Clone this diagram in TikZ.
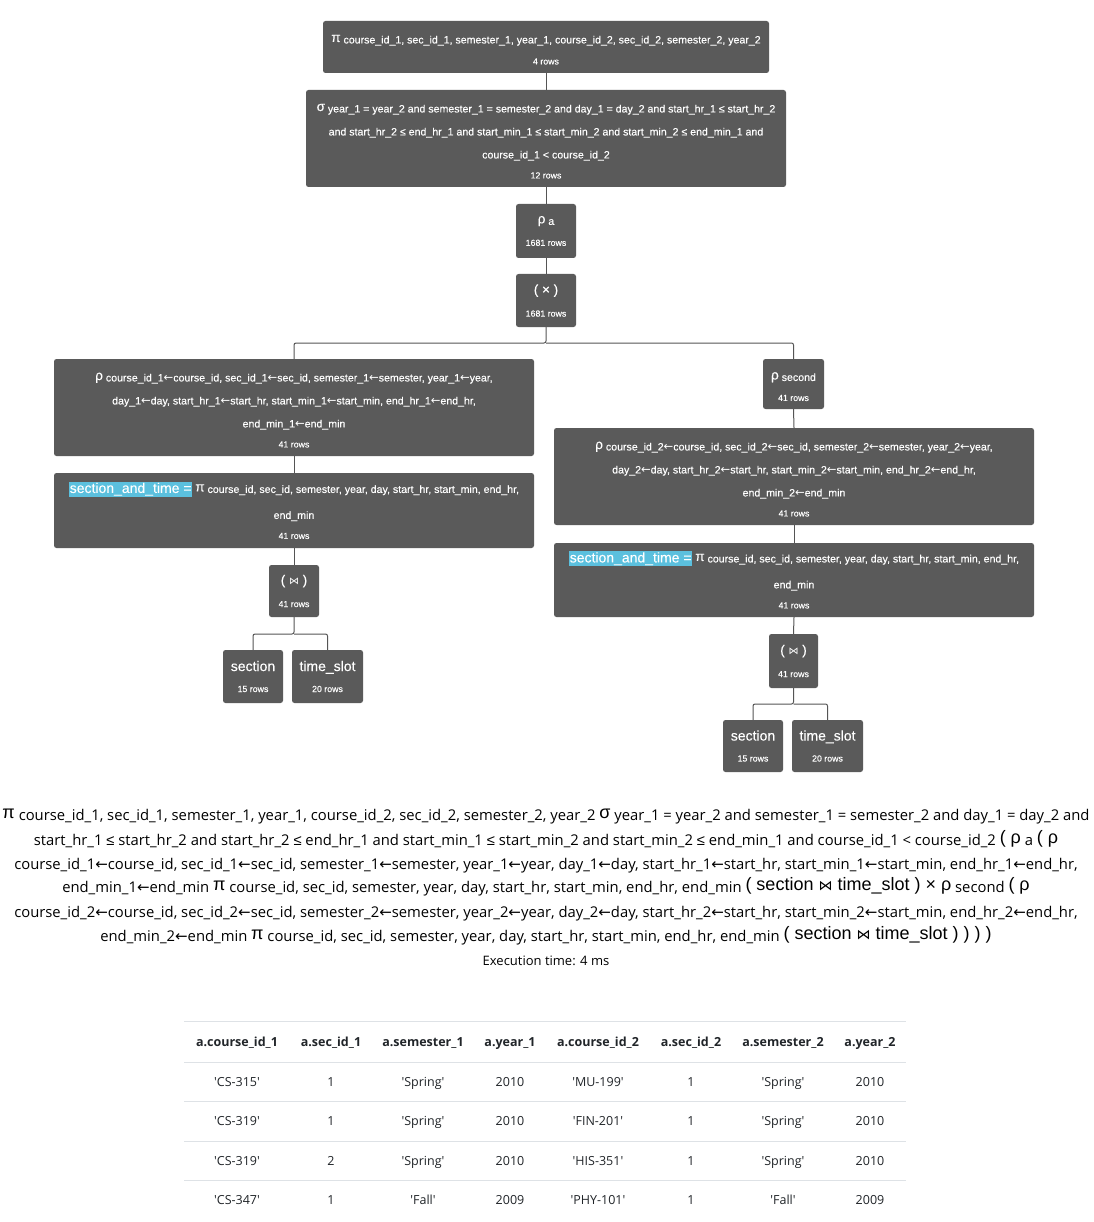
\documentclass[tikz,border=0pt]{standalone}
\usepackage{fontspec}
\setmainfont{Liberation Sans}
\newfontfamily\nf[FakeBold=0.25]{Liberation Sans}
\newfontfamily\lib{Liberation Sans}
\newfontfamily\djv{DejaVu Sans}
\newfontfamily\seg{Open Sans}
\definecolor{nodegray}{HTML}{5A5A5A}
\definecolor{linegray}{HTML}{555555}
\definecolor{hl}{HTML}{5BC0DE}
\definecolor{tblline}{HTML}{DEE2E6}
\definecolor{tbltext}{HTML}{212529}
\newcommand\op[1]{{\fontsize{13.5}{13.5}\selectfont\raisebox{1.5pt}{#1}}}
\newcommand\rows[1]{{\fontsize{8.8}{10}\selectfont #1 rows}}
\newcommand\bj{{\djv\fontsize{10}{10}\selectfont ⋈}}
\newcommand\hlt{{\setlength\fboxsep{0.8pt}\colorbox{hl}{\fontsize{14}{14}\selectfont section\_and\_time =}}}
\newcommand\B[1]{\raisebox{2pt}{\lib\fontsize{18}{18}\selectfont #1}}
\newcommand\BJ{{\djv\fontsize{14}{14}\selectfont ⋈}}
\newcommand\la{{\djv\fontsize{11.5}{11.5}\selectfont ←}}
\newcommand\lb{{\djv\fontsize{15}{15}\selectfont ←}}
\newcommand\lee{{\lib ≤}}
\newcommand\sh{\rule{0pt}{14pt}}
\tikzset{
  box/.style={fill=nodegray, rounded corners=2.5pt, text=white, align=center, inner sep=0pt,
    font=\nf\fontsize{10.6}{23}\selectfont},
  conn/.style={draw=linegray, line width=1pt, rounded corners=2pt},
  bline/.style={anchor=base, inner sep=0pt, font=\seg\fontsize{14.8}{16}\selectfont, text=black},
  th/.style={anchor=base, inner sep=0pt, font=\seg\bfseries\fontsize{12.5}{14}\selectfont, text=tbltext},
  td/.style={anchor=base, inner sep=0pt, font=\seg\fontsize{12.5}{14}\selectfont, text=tbltext},
  tl/.style={draw=tblline, line width=1pt}
}
\begin{document}
\begin{tikzpicture}[x=1pt,y=-1pt]
\fill[white] (0,0) rectangle (1093,1222);
\useasboundingbox (0,0) rectangle (1093,1222);

% ---------- tree ----------
\node[box, minimum width=446pt, minimum height=52pt] (proj) at (546,47)
 {\sh\op{π} course\_id\_1, sec\_id\_1, semester\_1, year\_1, course\_id\_2, sec\_id\_2, semester\_2, year\_2\\[-2pt]\rows{4}};
\node[box, minimum width=480pt, minimum height=97pt] (sel) at (546,138.5)
 {\sh\op{σ} year\_1 = year\_2 and semester\_1 = semester\_2 and day\_1 = day\_2 and start\_hr\_1 ≤ start\_hr\_2\\
  and start\_hr\_2 ≤ end\_hr\_1 and start\_min\_1 ≤ start\_min\_2 and start\_min\_2 ≤ end\_min\_1 and\\
  course\_id\_1 {<} course\_id\_2\\[-3pt]\rows{12}};
\node[box, minimum width=60pt, minimum height=54pt] (rhoa) at (546,231)
 {\op{ρ} a\\[-2pt]\rows{1681}};
\node[box, minimum width=60pt, minimum height=53pt] (cross) at (546,300.5)
 {\op{( × )}\\[-2pt]\rows{1681}};

\coordinate (fork) at (546,343);

% left branch
\node[box, minimum width=480pt, minimum height=97pt] (lrho) at (294,407.5)
 {\sh\op{ρ} course\_id\_1\la course\_id, sec\_id\_1\la sec\_id, semester\_1\la semester, year\_1\la year,\\
  day\_1\la day, start\_hr\_1\la start\_hr, start\_min\_1\la start\_min, end\_hr\_1\la end\_hr,\\
  end\_min\_1\la end\_min\\[-3pt]\rows{41}};
\node[box, minimum width=480pt, minimum height=75pt] (lsat) at (294,510.5)
 {\hlt\ \op{π} course\_id, sec\_id, semester, year, day, start\_hr, start\_min, end\_hr,\\[3pt]
  end\_min\\[-3pt]\rows{41}};
\node[box, minimum width=50pt, minimum height=52pt] (ljoin) at (294,591)
 {\op{( \bj\ )}\\[-2pt]\rows{41}};
\coordinate (lfork) at (294,634);
\node[box, minimum width=60pt, minimum height=53pt] (lsec) at (253,676.5)
 {{\fontsize{14}{14}\selectfont section}\\[-2pt]\rows{15}};
\node[box, minimum width=71pt, minimum height=53pt] (lts) at (327.5,676.5)
 {{\fontsize{14}{14}\selectfont time\_slot}\\[-2pt]\rows{20}};

% right branch
\node[box, minimum width=61pt, minimum height=50pt] (rsecond) at (793.5,384)
 {\sh\op{ρ} second\\[-3pt]\rows{41}};
\node[box, minimum width=480pt, minimum height=97pt] (rrho) at (794,476.5)
 {\sh\op{ρ} course\_id\_2\la course\_id, sec\_id\_2\la sec\_id, semester\_2\la semester, year\_2\la year,\\
  day\_2\la day, start\_hr\_2\la start\_hr, start\_min\_2\la start\_min, end\_hr\_2\la end\_hr,\\
  end\_min\_2\la end\_min\\[-3pt]\rows{41}};
\node[box, minimum width=480pt, minimum height=74pt] (rsat) at (794,580)
 {\hlt\ \op{π} course\_id, sec\_id, semester, year, day, start\_hr, start\_min, end\_hr,\\[3pt]
  end\_min\\[-3pt]\rows{41}};
\node[box, minimum width=49pt, minimum height=54pt] (rjoin) at (793.5,661)
 {\op{( \bj\ )}\\[-2pt]\rows{41}};
\coordinate (rfork) at (793.5,704);
\node[box, minimum width=60pt, minimum height=52pt] (rsec) at (753,746)
 {{\fontsize{14}{14}\selectfont section}\\[-2pt]\rows{15}};
\node[box, minimum width=71pt, minimum height=52pt] (rts) at (827.5,746)
 {{\fontsize{14}{14}\selectfont time\_slot}\\[-2pt]\rows{20}};

% connectors
\draw[conn] (proj.south) -- (sel.north);
\draw[conn] (sel.south) -- (rhoa.north);
\draw[conn] (rhoa.south) -- (cross.north);
\draw[conn] (cross.south) -- (fork) -| (lrho.north);
\draw[conn] (fork) -| (rsecond.north);
\draw[conn] (lrho.south) -- (lsat.north);
\draw[conn] (lsat.south) -- (ljoin.north);
\draw[conn] (ljoin.south) -- (lfork) -| (lsec.north);
\draw[conn] (lfork) -| (lts.north);
\draw[conn] (rsecond.south) -- (rrho.north);
\draw[conn] (rrho.south) -- (rsat.north);
\draw[conn] (rsat.south) -- (rjoin.north);
\draw[conn] (rjoin.south) -- (rfork) -| (rsec.north);
\draw[conn] (rfork) -| (rts.north);

% ---------- expression text ----------
\node[bline] (t1) at (546,820) {\B{π} course\_id\_1, sec\_id\_1, semester\_1, year\_1, course\_id\_2, sec\_id\_2, semester\_2, year\_2 \B{σ} year\_1 = year\_2 and semester\_1 = semester\_2 and day\_1 = day\_2 and};
\node[bline] (t2) at (546,845) {start\_hr\_1 \lee{} start\_hr\_2 and start\_hr\_2 \lee{} end\_hr\_1 and start\_min\_1 \lee{} start\_min\_2 and start\_min\_2 \lee{} end\_min\_1 and course\_id\_1 {<} course\_id\_2 \B{( ρ} a \B{( ρ}};
\node[bline] (t3) at (546,869) {course\_id\_1\lb course\_id, sec\_id\_1\lb sec\_id, semester\_1\lb semester, year\_1\lb year, day\_1\lb day, start\_hr\_1\lb start\_hr, start\_min\_1\lb start\_min, end\_hr\_1\lb end\_hr,};
\node[bline] (t4) at (546,892) {end\_min\_1\lb end\_min \B{π} course\_id, sec\_id, semester, year, day, start\_hr, start\_min, end\_hr, end\_min \B{( section \BJ\ time\_slot ) × ρ} second \B{( ρ}};
\node[bline] (t5) at (546,917) {course\_id\_2\lb course\_id, sec\_id\_2\lb sec\_id, semester\_2\lb semester, year\_2\lb year, day\_2\lb day, start\_hr\_2\lb start\_hr, start\_min\_2\lb start\_min, end\_hr\_2\lb end\_hr,};
\node[bline] (t6) at (546,941) {end\_min\_2\lb end\_min \B{π} course\_id, sec\_id, semester, year, day, start\_hr, start\_min, end\_hr, end\_min \B{( section \BJ\ time\_slot ) ) ) )}};
\node[bline, font=\seg\fontsize{13}{14}\selectfont] (t7) at (546,965) {Execution time: 4 ms};

% ---------- table ----------
\draw[tl] (184,1021) -- (906,1021);
\draw[tl] (184,1062) -- (906,1062);
\draw[tl] (184,1101) -- (906,1101);
\draw[tl] (184,1141) -- (906,1141);
\draw[tl] (184,1180) -- (906,1180);

\node[th] (h1) at (237,1046) {a.course\_id\_1};
\node[th] (h2) at (331,1046) {a.sec\_id\_1};
\node[th] (h3) at (423,1046) {a.semester\_1};
\node[th] (h4) at (510,1046) {a.year\_1};
\node[th] (h5) at (598,1046) {a.course\_id\_2};
\node[th] (h6) at (691,1046) {a.sec\_id\_2};
\node[th] (h7) at (783,1046) {a.semester\_2};
\node[th] (h8) at (870,1046) {a.year\_2};

\node[td] (r1a) at (237,1086) {'CS-315'};
\node[td] (r1b) at (331,1086) {1};
\node[td] (r1c) at (423,1086) {'Spring'};
\node[td] (r1d) at (510,1086) {2010};
\node[td] (r1e) at (598,1086) {'MU-199'};
\node[td] (r1f) at (691,1086) {1};
\node[td] (r1g) at (783,1086) {'Spring'};
\node[td] (r1h) at (870,1086) {2010};

\node[td] (r2a) at (237,1125) {'CS-319'};
\node[td] (r2b) at (331,1125) {1};
\node[td] (r2c) at (423,1125) {'Spring'};
\node[td] (r2d) at (510,1125) {2010};
\node[td] (r2e) at (598,1125) {'FIN-201'};
\node[td] (r2f) at (691,1125) {1};
\node[td] (r2g) at (783,1125) {'Spring'};
\node[td] (r2h) at (870,1125) {2010};

\node[td] (r3a) at (237,1165) {'CS-319'};
\node[td] (r3b) at (331,1165) {2};
\node[td] (r3c) at (423,1165) {'Spring'};
\node[td] (r3d) at (510,1165) {2010};
\node[td] (r3e) at (598,1165) {'HIS-351'};
\node[td] (r3f) at (691,1165) {1};
\node[td] (r3g) at (783,1165) {'Spring'};
\node[td] (r3h) at (870,1165) {2010};

\node[td] (r4a) at (237,1204) {'CS-347'};
\node[td] (r4b) at (331,1204) {1};
\node[td] (r4c) at (423,1204) {'Fall'};
\node[td] (r4d) at (510,1204) {2009};
\node[td] (r4e) at (598,1204) {'PHY-101'};
\node[td] (r4f) at (691,1204) {1};
\node[td] (r4g) at (783,1204) {'Fall'};
\node[td] (r4h) at (870,1204) {2009};
\end{tikzpicture}
\end{document}
